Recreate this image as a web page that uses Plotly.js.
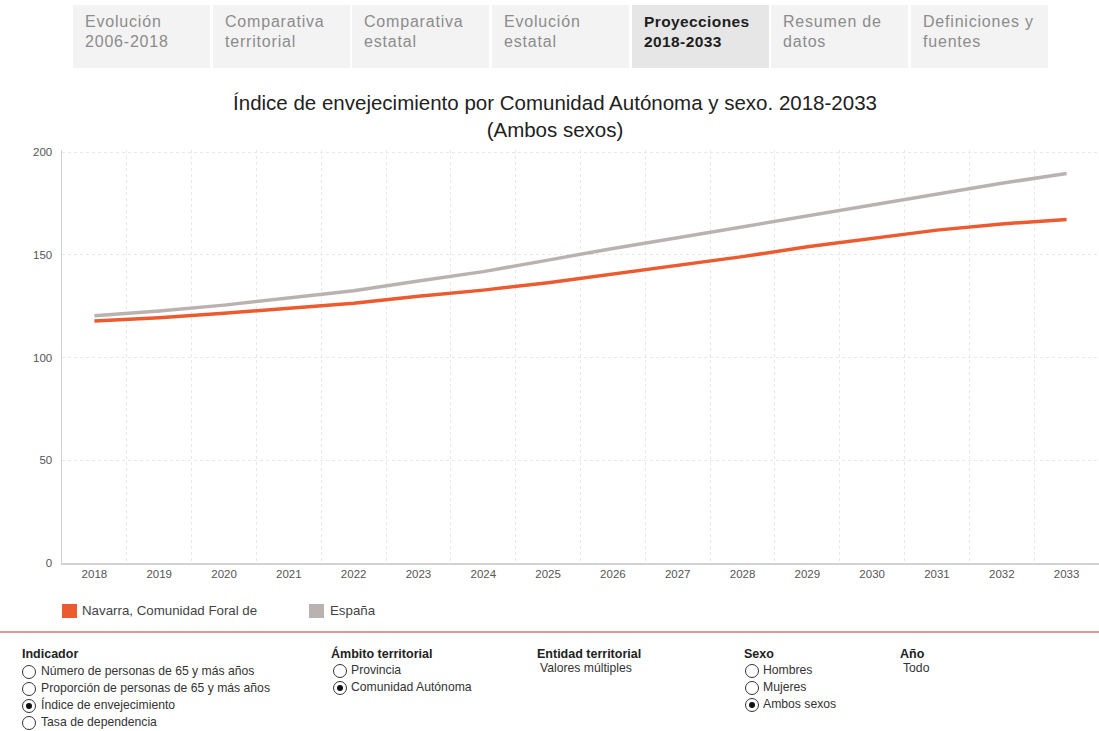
<!DOCTYPE html>
<html>
<head>
<meta charset="utf-8">
<script src="https://cdn.plot.ly/plotly-3.0.1.min.js"></script>
<style>
  html, body { margin:0; padding:0; background:#fff; width:1099px; height:731px; overflow:hidden; }
  body { font-family: "Liberation Sans", Arial, sans-serif; position:relative; }
  #chart { position:absolute; left:0; top:0; width:1099px; height:731px; }
  .tab { position:absolute; top:5px; width:137px; height:63px; background:#f3f3f3; box-sizing:border-box;
         padding:7px 0 0 12px; font-size:16px; line-height:20px; letter-spacing:0.8px; color:#8c8c8c; z-index:5; }
  .tab.active { background:#e6e6e6; color:#1e1e1e; font-weight:bold; font-size:15.5px; letter-spacing:0.4px; }
  .ov { position:absolute; z-index:5; color:#333; white-space:nowrap; }
  .hdr { font-size:12.5px; font-weight:bold; color:#222; }
  .itm { font-size:12.2px; }
  .radio { position:absolute; width:14px; height:14px; border:1px solid #333; border-radius:50%; box-sizing:border-box; z-index:5; background:#fff; }
  .radio.on::after { content:""; position:absolute; left:3px; top:3px; width:6px; height:6px; border-radius:50%; background:#111; }
  .sw { position:absolute; width:15px; height:14px; z-index:5; }
  .leg { position:absolute; font-size:13.3px; color:#444; z-index:5; white-space:nowrap; }
  #redline { position:absolute; left:0; top:631px; width:1099px; height:2px; background:#e19595; z-index:5; }
</style>
</head>
<body>
<div id="chart"></div>

<div class="tab" style="left:73px">Evolución<br>2006-2018</div>
<div class="tab" style="left:213px">Comparativa<br>territorial</div>
<div class="tab" style="left:352px">Comparativa<br>estatal</div>
<div class="tab" style="left:492px">Evolución<br>estatal</div>
<div class="tab active" style="left:632px">Proyecciones<br>2018-2033</div>
<div class="tab" style="left:771px">Resumen de<br>datos</div>
<div class="tab" style="left:911px">Definiciones y<br>fuentes</div>

<div class="sw" style="left:62px; top:604px; background:#ec5a2f"></div>
<div class="leg" style="left:82px; top:603px">Navarra, Comunidad Foral de</div>
<div class="sw" style="left:309px; top:604px; background:#bab2b0"></div>
<div class="leg" style="left:330px; top:603px">España</div>

<div id="redline"></div>

<div class="ov hdr" style="left:22px; top:647px">Indicador</div>
<div class="radio" style="left:22px; top:665px"></div><div class="ov itm" style="left:41px; top:664px">Número de personas de 65 y más años</div>
<div class="radio" style="left:22px; top:682px"></div><div class="ov itm" style="left:41px; top:681px">Proporción de personas de 65 y más años</div>
<div class="radio on" style="left:22px; top:699px"></div><div class="ov itm" style="left:41px; top:698px">Índice de envejecimiento</div>
<div class="radio" style="left:22px; top:716px"></div><div class="ov itm" style="left:41px; top:715px">Tasa de dependencia</div>

<div class="ov hdr" style="left:331px; top:647px">Ámbito territorial</div>
<div class="radio" style="left:333px; top:664px"></div><div class="ov itm" style="left:351px; top:663px">Provincia</div>
<div class="radio on" style="left:333px; top:681px"></div><div class="ov itm" style="left:351px; top:680px">Comunidad Autónoma</div>

<div class="ov hdr" style="left:537px; top:647px">Entidad territorial</div>
<div class="ov itm" style="left:540px; top:661px">Valores múltiples</div>

<div class="ov hdr" style="left:744px; top:647px">Sexo</div>
<div class="radio" style="left:745px; top:664px"></div><div class="ov itm" style="left:763px; top:663px">Hombres</div>
<div class="radio" style="left:745px; top:681px"></div><div class="ov itm" style="left:763px; top:680px">Mujeres</div>
<div class="radio on" style="left:745px; top:698px"></div><div class="ov itm" style="left:763px; top:697px">Ambos sexos</div>

<div class="ov hdr" style="left:900px; top:647px">Año</div>
<div class="ov itm" style="left:903px; top:661px">Todo</div>

<script>
const years = ['2018','2019','2020','2021','2022','2023','2024','2025','2026','2027','2028','2029','2030','2031','2032','2033'];
const navarra = [117.8,119.4,121.5,123.9,126.4,129.8,132.8,136.4,140.6,144.5,149.1,153.9,158.0,162.0,165.0,167.2];
const espana  = [120.3,122.6,125.5,129.1,132.5,137.2,141.8,147.4,153.1,158.3,163.6,168.9,174.5,179.9,184.8,189.6];
const yTicks = [0,50,100,150,200];
const titleText = 'Índice de envejecimiento por Comunidad Autónoma y sexo. 2018-2033<br>(Ambos sexos)';

const traces = [
  {x: years, y: espana, name: 'España', type: 'scatter', mode: 'lines',
   line: {color: '#bab2b0', width: 3.5}, hoverinfo: 'skip'},
  {x: years, y: navarra, name: 'Navarra, Comunidad Foral de', type: 'scatter', mode: 'lines',
   line: {color: '#ec5a2f', width: 3.5}, hoverinfo: 'skip'}
];

const layout = {
  width: 1099, height: 731,
  margin: {l: 62, r: 0, t: 150, b: 168},
  paper_bgcolor: '#ffffff', plot_bgcolor: '#ffffff',
  showlegend: false,
  font: {family: '"Liberation Sans", Arial, sans-serif', color: '#555'},
  title: {
    text: titleText,
    font: {size: 20.5, color: '#222', family: '"Liberation Sans", Arial, sans-serif'},
    xref: 'container', x: 0.505, xanchor: 'center',
    yref: 'container', y: 1 - 110/731, yanchor: 'top'
  },
  xaxis: {
    type: 'category', range: [-0.5, 15.5], tickson: 'boundaries',
    showgrid: true, gridcolor: '#e8e8e8', griddash: 'dot', gridwidth: 1,
    showline: true, linecolor: '#d2d2d2', linewidth: 1.5,
    ticks: '', tickfont: {size: 11.5, color: '#555'}, fixedrange: true
  },
  yaxis: {
    range: [0, 201], tickvals: yTicks, ticktext: yTicks.map(String),
    showgrid: true, gridcolor: '#e8e8e8', griddash: 'dot', gridwidth: 1,
    showline: true, linecolor: '#d2d2d2', linewidth: 1.5, zeroline: false,
    ticks: '', ticklabelstandoff: 6, tickfont: {size: 11.5, color: '#555'}, fixedrange: true
  }
};

Plotly.newPlot('chart', traces, layout, {displayModeBar: false, staticPlot: true});
</script>
</body>
</html>
